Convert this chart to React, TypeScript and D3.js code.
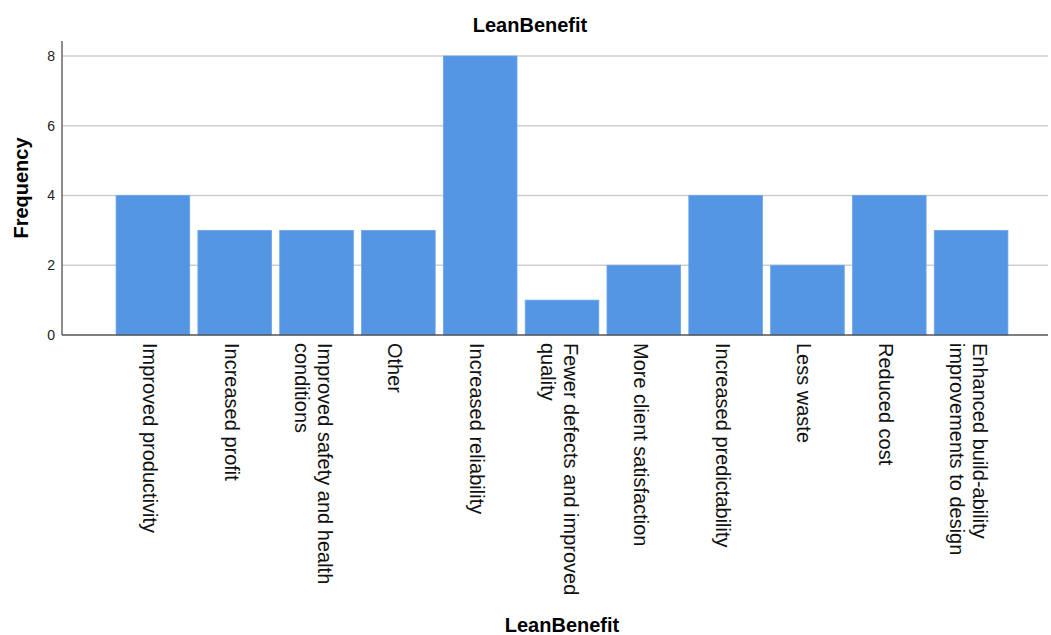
import React from "react";
import * as d3 from "d3";

const categories: string[] = [
  "Improved productivity",
  "Increased profit",
  "Improved safety and health\nconditions",
  "Other",
  "Increased reliability",
  "Fewer defects and improved\nquality",
  "More client satisfaction",
  "Increased predictability",
  "Less waste",
  "Reduced cost",
  "Enhanced build-ability\nimprovements to design",
];
const frequencies: number[] = [4, 3, 3, 3, 8, 1, 2, 4, 2, 4, 3];
const yTicks: number[] = [0, 2, 4, 6, 8];
const title = "LeanBenefit";
const xTitle = "LeanBenefit";
const yTitle = "Frequency";

const W = 1051;
const H = 635;
const FONT = "'Liberation Sans', Arial, Helvetica, sans-serif";

export default function App() {
  const axisX = 62;
  const plotRight = 1048;
  const x = d3
    .scaleBand<string>()
    .domain(categories)
    .range([112, 1012])
    .paddingInner(0.1)
    .paddingOuter(0.05);
  const y = d3.scaleLinear().domain([0, 8.43]).range([335, 41]);
  const lineH = 23;
  const labelTop = 343;

  return (
    <div style={{ position: "absolute", left: 0, top: 0 }}>
      <svg width={W} height={H} style={{ display: "block", background: "#fff" }}>
        <text x={530} y={32} textAnchor="middle" fontFamily={FONT} fontWeight="bold" fontSize={20} fill="#000">
          {title}
        </text>
        {yTicks.filter((t) => t > 0).map((t) => (
          <line key={"g" + t} x1={axisX} x2={plotRight} y1={y(t)} y2={y(t)} stroke="#cfcfcf" strokeWidth={1.5} />
        ))}
        {categories.map((c, i) => (
          <rect
            key={c}
            x={x(c)}
            y={y(frequencies[i])}
            width={x.bandwidth()}
            height={y(0) - y(frequencies[i])}
            fill="#5596E4"
            stroke="#6aa4ea"
            strokeWidth={0.8}
          />
        ))}
        <line x1={axisX} x2={axisX} y1={y.range()[1]} y2={y(0)} stroke="#666" strokeWidth={1.5} />
        <line x1={axisX} x2={plotRight} y1={y(0)} y2={y(0)} stroke="#555" strokeWidth={1.5} />
        {yTicks.map((t) => (
          <text key={"t" + t} x={55} y={y(t)} dy="0.35em" textAnchor="end" fontFamily={FONT} fontSize={14} fill="#222">
            {t}
          </text>
        ))}
        {categories.map((c) => {
          const cx = (x(c) as number) + x.bandwidth() / 2;
          const lines = c.split("\n");
          const n = lines.length;
          return lines.map((ln, j) => {
            const center = cx - 3 + ((n - 1) / 2) * lineH - lineH * j;
            return (
              <text
                key={c + j}
                transform={`translate(${center},${labelTop}) rotate(90)`}
                dy="0.35em"
                textAnchor="start"
                fontFamily={FONT}
                fontSize={20}
                fill="#111"
              >
                {ln}
              </text>
            );
          });
        })}
        <text x={562} y={632} textAnchor="middle" fontFamily={FONT} fontWeight="bold" fontSize={20} fill="#000">
          {xTitle}
        </text>
        <text
          transform={`translate(28,${(y(0) + y.range()[1]) / 2}) rotate(-90)`}
          textAnchor="middle"
          fontFamily={FONT}
          fontWeight="bold"
          fontSize={20}
          fill="#000"
        >
          {yTitle}
        </text>
      </svg>
    </div>
  );
}
